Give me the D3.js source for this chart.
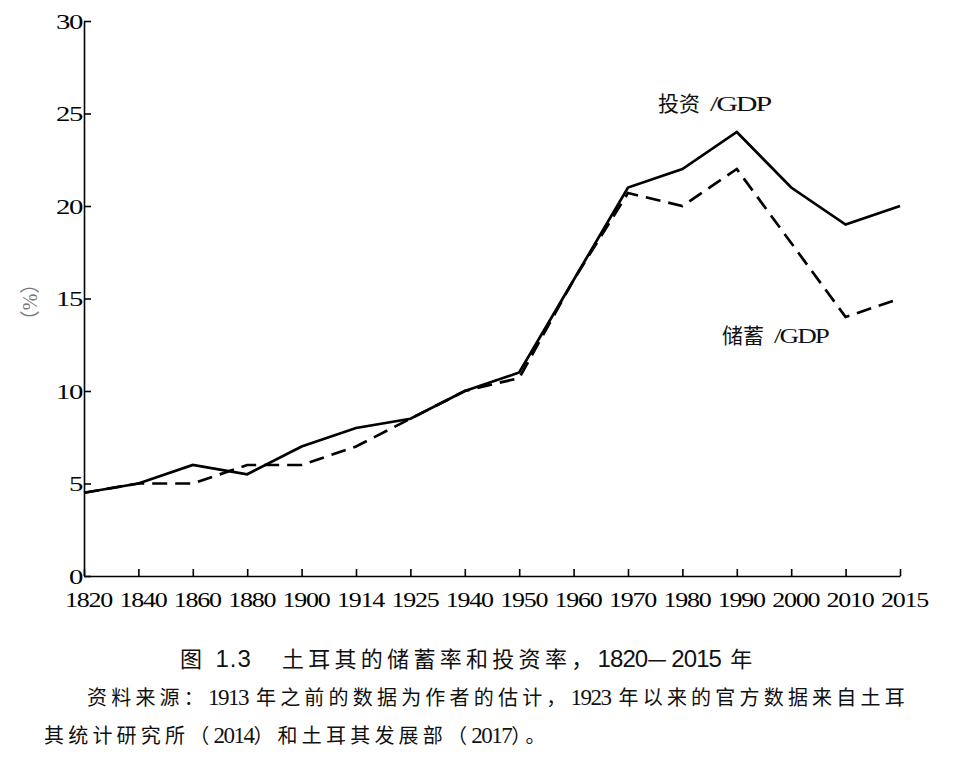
<!DOCTYPE html>
<html>
<head>
<meta charset="utf-8">
<script src="https://cdn.jsdelivr.net/npm/d3@7"></script>
<style>
  html, body { margin: 0; padding: 0; background: #fff; }
  svg { display: block; }
</style>
</head>
<body>
<svg id="chart" width="960" height="774"></svg>
<script>
const years = ["1820","1840","1860","1880","1900","1914","1925","1940","1950","1960","1970","1980","1990","2000","2010","2015"];
const investment = [4.5, 5, 6, 5.5, 7, 8, 8.5, 10, 11, 16, 21, 22, 24, 21, 19, 20];
const savings    = [4.5, 5, 5, 6, 6, 7, 8.5, 10, 10.7, 16, 20.7, 20, 22, 18, 14, 15];
const yTicks = [0, 5, 10, 15, 20, 25, 30];
const investLabel = ["投资", "/GDP"];
const savingsLabel = ["储蓄", "/GDP"];
const yUnit = "（%）";
const caption = "图 1.3　土耳其的储蓄率和投资率，1820—2015 年";
const source1 = "资料来源：1913 年之前的数据为作者的估计，1923 年以来的官方数据来自土耳";
const source2 = "其统计研究所（2014）和土耳其发展部（2017）。";

const svg = d3.select("#chart");
const serif = "'Liberation Serif', 'Times New Roman', serif";
const sans = "'Liberation Sans', Arial, sans-serif";
const cjkFont = "'Noto Sans CJK SC', sans-serif";

const x = d3.scalePoint().domain(years).range([84, 900]);
const y = d3.scaleLinear().domain([0, 30]).range([576, 21]);

// X axis
const gx = svg.append("g").attr("transform", "translate(0,576)")
  .call(d3.axisBottom(x).tickSize(-7).tickSizeOuter(0));
gx.select(".domain").attr("stroke", "#000").attr("stroke-width", 1.6);
gx.selectAll(".tick line").attr("stroke", "#000").attr("stroke-width", 1.6);
gx.selectAll(".tick text")
  .attr("y", 31).attr("dy", 0).attr("dx", 4)
  .attr("font-family", serif).attr("font-size", 21).attr("fill", "#000")
  .attr("letter-spacing", -1)
  .attr("textLength", 47).attr("lengthAdjust", "spacingAndGlyphs");

// Y axis
const gy = svg.append("g").attr("transform", "translate(84,0)")
  .call(d3.axisLeft(y).tickValues(yTicks).tickSize(-7).tickSizeOuter(0).tickFormat(d3.format("d")));
gy.select(".domain").attr("stroke", "#000").attr("stroke-width", 1.6);
gy.selectAll(".tick line").attr("stroke", "#000").attr("stroke-width", 1.6);
gy.selectAll(".tick text")
  .attr("x", -2).attr("dy", "0.34em")
  .attr("font-family", serif).attr("font-size", 21).attr("fill", "#000")
  .attr("letter-spacing", -1)
  .attr("textLength", d => String(d).length * 13).attr("lengthAdjust", "spacingAndGlyphs");

// Lines
const line = d3.line().x((d, i) => x(years[i])).y(d => y(d));
svg.append("path").datum(investment)
  .attr("d", line).attr("fill", "none").attr("stroke", "#000")
  .attr("stroke-width", 2.7).attr("stroke-linejoin", "miter");
svg.append("path").datum(savings)
  .attr("d", line).attr("fill", "none").attr("stroke", "#000")
  .attr("stroke-width", 2.7).attr("stroke-dasharray", "15,8");

// Series labels
function seriesLabel(parts, lx, ly, latinLen) {
  const t = svg.append("text").attr("x", lx).attr("y", ly).attr("fill", "#111");
  t.append("tspan").attr("font-family", cjkFont).attr("font-size", 21).text(parts[0]);
  t.append("tspan").attr("dx", 10).attr("font-family", serif).attr("font-size", 21)
    .attr("letter-spacing", -1.5)
    .attr("textLength", latinLen).attr("lengthAdjust", "spacingAndGlyphs").text(parts[1]);
}
seriesLabel(investLabel, 658, 111, 60);
seriesLabel(savingsLabel, 722, 343, 54);

// Y unit
svg.append("text")
  .attr("transform", "translate(37,302) rotate(-90)")
  .attr("text-anchor", "middle")
  .attr("font-family", "'Liberation Serif', 'Noto Sans CJK SC', serif").attr("font-size", 20).attr("fill", "#777")
  .text(yUnit);

// Mixed CJK / Latin text helper
const kindOf = ch => {
  if (ch === "\u3000") return "ws";
  if (ch === " ") return "sp";
  return /[\u2014\u3000-\u303f\u4e00-\u9fff\uff00-\uffef]/.test(ch) ? "cjk" : "latin";
};
function mixedText(str, tx, ty, st) {
  const t = svg.append("text").attr("x", tx).attr("y", ty).attr("fill", "#111")
    .attr("xml:space", "preserve");
  const runs = [];
  for (const ch of str) {
    const k = kindOf(ch);
    if (runs.length && runs[runs.length - 1].k === k) runs[runs.length - 1].s += ch;
    else runs.push({ k, s: ch });
  }
  runs.forEach(r => {
    const ts = t.append("tspan").text(r.s);
    if (r.k === "latin") {
      ts.attr("font-family", st.latinFont).attr("font-size", st.latinSize)
        .attr("letter-spacing", r.s.includes(".") ? st.dotRunSpacing : st.latinSpacing);
    } else if (r.k === "sp") {
      ts.attr("font-family", st.latinFont).attr("font-size", st.latinSize)
        .attr("letter-spacing", st.spSpacing);
    } else {
      ts.attr("font-family", cjkFont).attr("font-size", st.cjkSize)
        .attr("letter-spacing", r.k === "ws" ? st.wsSpacing : st.cjkSpacing);
    }
  });
  return t;
}

// Caption
mixedText(caption, 180, 667, {
  latinFont: sans, latinSize: 24, latinSpacing: -0.9, dotRunSpacing: 1, spSpacing: 2.5,
  cjkSize: 22, cjkSpacing: 4.3, wsSpacing: 8
});

// Source
const srcStyle = {
  latinFont: serif, latinSize: 23, latinSpacing: -1.5, dotRunSpacing: -1.5, spSpacing: 2.2,
  cjkSize: 20, cjkSpacing: 4.2, wsSpacing: 4.2
};
mixedText(source1, 87, 705, srcStyle);
mixedText(source2, 44, 743, srcStyle);
</script>
</body>
</html>
